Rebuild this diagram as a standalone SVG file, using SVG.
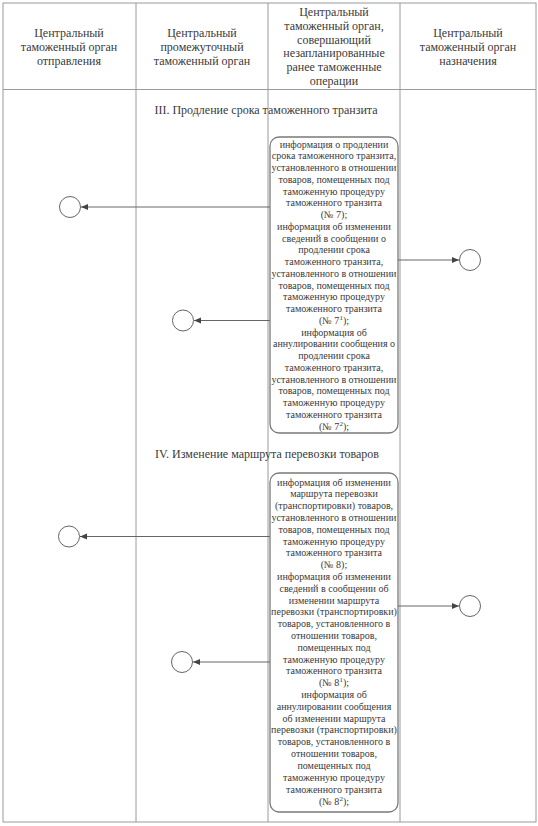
<svg xmlns="http://www.w3.org/2000/svg" width="538" height="826" viewBox="0 0 538 826">
<style>
.grid{stroke:#9a9a9a;stroke-width:1;fill:none}
.hd{font-family:"Liberation Serif","Times New Roman",serif;font-size:12px;fill:#3a3a3a;text-anchor:middle}
.tt{font-family:"Liberation Serif","Times New Roman",serif;font-size:12px;fill:#3a3a3a;text-anchor:middle}
.bx{font-family:"Liberation Serif","Times New Roman",serif;font-size:10px;fill:#3a3a3a;text-anchor:middle}
.box{fill:#fff;stroke:#7a7a7a;stroke-width:1.3}
.cir{fill:#fff;stroke:#666;stroke-width:1}
.con{stroke:#666;stroke-width:1;fill:none;marker-end:url(#ah)}
</style>
<defs>
<marker id="ah" markerWidth="8" markerHeight="8" refX="7" refY="4" orient="auto" markerUnits="userSpaceOnUse">
<path d="M0,1 L7,4 L0,7 Z" fill="#444"/>
</marker>
</defs>
<rect width="538" height="826" fill="#fff"/>
<g id="table" class="grid">
<rect x="3" y="3" width="533" height="819"/>
<line x1="3" y1="89.5" x2="536" y2="89.5"/>
<line x1="136" y1="3" x2="136" y2="822"/>
<line x1="268" y1="3" x2="268" y2="822"/>
<line x1="400" y1="3" x2="400" y2="822"/>
</g>
<g id="h1">
<text class="hd" x="69" y="37">Центральный</text>
<text class="hd" x="69" y="51">таможенный орган</text>
<text class="hd" x="69" y="65">отправления</text>
</g>
<g id="h2">
<text class="hd" x="202" y="37">Центральный</text>
<text class="hd" x="202" y="51">промежуточный</text>
<text class="hd" x="202" y="65">таможенный орган</text>
</g>
<g id="h3">
<text class="hd" x="334" y="16">Центральный</text>
<text class="hd" x="334" y="30">таможенный орган,</text>
<text class="hd" x="334" y="44">совершающий</text>
<text class="hd" x="334" y="57">незапланированные</text>
<text class="hd" x="334" y="71">ранее таможенные</text>
<text class="hd" x="334" y="85">операции</text>
</g>
<g id="h4">
<text class="hd" x="468" y="37">Центральный</text>
<text class="hd" x="468" y="51">таможенный орган</text>
<text class="hd" x="468" y="65">назначения</text>
</g>
<g id="title3"><text class="tt" x="266" y="114">III. Продление срока таможенного транзита</text></g>
<g id="title4"><text class="tt" x="267" y="457.5">IV. Изменение маршрута перевозки товаров</text></g>
<g id="box1">
<rect class="box" x="270" y="137" width="128" height="296" rx="9"/>
<text class="bx" x="334" y="147.5">информация о продлении</text>
<text class="bx" x="334" y="159.25">срока таможенного транзита,</text>
<text class="bx" x="334" y="171">установленного в отношении</text>
<text class="bx" x="334" y="182.75">товаров, помещенных под</text>
<text class="bx" x="334" y="194.5">таможенную процедуру</text>
<text class="bx" x="334" y="206.25">таможенного транзита</text>
<text class="bx" x="334" y="218">(№ 7);</text>
<text class="bx" x="334" y="229.75">информация об изменении</text>
<text class="bx" x="334" y="241.5">сведений в сообщении о</text>
<text class="bx" x="334" y="253.25">продлении срока</text>
<text class="bx" x="334" y="265">таможенного транзита,</text>
<text class="bx" x="334" y="276.75">установленного в отношении</text>
<text class="bx" x="334" y="288.5">товаров, помещенных под</text>
<text class="bx" x="334" y="300.25">таможенную процедуру</text>
<text class="bx" x="334" y="312">таможенного транзита</text>
<text class="bx" x="334" y="323.75">(№ 7<tspan font-size="7" dy="-4">1</tspan><tspan dy="4">);</tspan></text>
<text class="bx" x="334" y="335.5">информация об</text>
<text class="bx" x="334" y="347.25">аннулировании сообщения о</text>
<text class="bx" x="334" y="359">продлении срока</text>
<text class="bx" x="334" y="370.75">таможенного транзита,</text>
<text class="bx" x="334" y="382.5">установленного в отношении</text>
<text class="bx" x="334" y="394.25">товаров, помещенных под</text>
<text class="bx" x="334" y="406">таможенную процедуру</text>
<text class="bx" x="334" y="417.75">таможенного транзита</text>
<text class="bx" x="334" y="429.5">(№ 7<tspan font-size="7" dy="-4">2</tspan><tspan dy="4">);</tspan></text>
</g>
<g id="box2">
<rect class="box" x="270" y="473" width="128" height="339" rx="9"/>
<text class="bx" x="334" y="485.5">информация об изменении</text>
<text class="bx" x="334" y="497.3">маршрута перевозки</text>
<text class="bx" x="334" y="509.1">(транспортировки) товаров,</text>
<text class="bx" x="334" y="520.9">установленного в отношении</text>
<text class="bx" x="334" y="532.7">товаров, помещенных под</text>
<text class="bx" x="334" y="544.5">таможенную процедуру</text>
<text class="bx" x="334" y="556.3">таможенного транзита</text>
<text class="bx" x="334" y="568.1">(№ 8);</text>
<text class="bx" x="334" y="579.9">информация об изменении</text>
<text class="bx" x="334" y="591.7">сведений в сообщении об</text>
<text class="bx" x="334" y="603.5">изменении маршрута</text>
<text class="bx" x="334" y="615.3">перевозки (транспортировки)</text>
<text class="bx" x="334" y="627.1">товаров, установленного в</text>
<text class="bx" x="334" y="638.9">отношении товаров,</text>
<text class="bx" x="334" y="650.7">помещенных под</text>
<text class="bx" x="334" y="662.5">таможенную процедуру</text>
<text class="bx" x="334" y="674.3">таможенного транзита</text>
<text class="bx" x="334" y="686.1">(№ 8<tspan font-size="7" dy="-4">1</tspan><tspan dy="4">);</tspan></text>
<text class="bx" x="334" y="697.9">информация об</text>
<text class="bx" x="334" y="709.7">аннулировании сообщения</text>
<text class="bx" x="334" y="721.5">об изменении маршрута</text>
<text class="bx" x="334" y="733.3">перевозки (транспортировки)</text>
<text class="bx" x="334" y="745.1">товаров, установленного в</text>
<text class="bx" x="334" y="756.9">отношении товаров,</text>
<text class="bx" x="334" y="768.7">помещенных под</text>
<text class="bx" x="334" y="780.5">таможенную процедуру</text>
<text class="bx" x="334" y="793">таможенного транзита</text>
<text class="bx" x="334" y="805">(№ 8<tspan font-size="7" dy="-4">2</tspan><tspan dy="4">);</tspan></text>
</g>
<g id="c1"><circle class="cir" cx="70" cy="207" r="10.5"/></g>
<g id="c2"><circle class="cir" cx="183" cy="320.5" r="10.5"/></g>
<g id="c3"><circle class="cir" cx="470" cy="260" r="10.5"/></g>
<g id="c4"><circle class="cir" cx="69" cy="536.5" r="10.5"/></g>
<g id="c5"><circle class="cir" cx="182" cy="662" r="10.5"/></g>
<g id="c6"><circle class="cir" cx="470" cy="606" r="10.5"/></g>
<g id="connectors">
<line class="con" x1="270" y1="207" x2="81" y2="207"/>
<line class="con" x1="270" y1="320.5" x2="194" y2="320.5"/>
<line class="con" x1="398" y1="260" x2="459" y2="260"/>
<line class="con" x1="270" y1="536.5" x2="80" y2="536.5"/>
<line class="con" x1="270" y1="662" x2="193" y2="662"/>
<line class="con" x1="398" y1="606" x2="459" y2="606"/>
</g>
</svg>
